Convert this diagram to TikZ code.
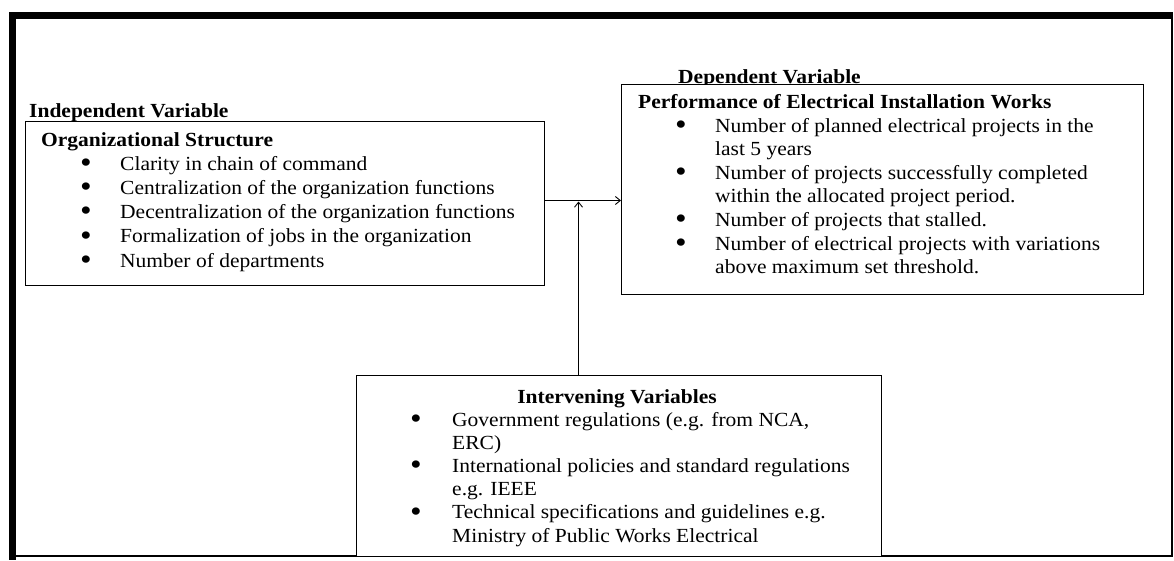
\documentclass[tikz,border=0pt]{standalone}
\usepackage{fontspec}
\setmainfont{Liberation Serif}[FakeStretch=1.075]
\usetikzlibrary{calc,arrows.meta}

\newcommand{\bigdot}{\raisebox{-1.2pt}{\fontsize{27}{0}\selectfont\textbf{\textbullet}}}
\newcommand{\bitem}[3]{\hspace*{#1}\makebox[#2][l]{\hspace*{-1.5pt}\bigdot}#3}
\newcommand{\bcont}[2]{\hspace*{#1}#2}

\tikzset{
	box/.style={draw, fill=white, line width=1.4pt, anchor=north west},
	lbl/.style={anchor=base west, font=\fontsize{20}{24.2}\selectfont\bfseries},
	txt/.style={anchor=base west},
	link/.style={-{Straight Barb[length=5pt,width=8pt]}, line width=0.9pt},
}

\begin{document}
\begin{tikzpicture}[x=1pt,y=-1pt, every node/.style={inner sep=0pt, font=\fontsize{20}{24.2}\selectfont}]
	\useasboundingbox (0,0) rectangle (1174,560);
	
	% frame
	\draw[line width=7pt] (9,15.5) -- (1173,15.5);
	\draw[line width=7pt] (12.5,12) -- (12.5,560);
	\draw[line width=2.4pt] (1172,19) -- (1172,557);
	\draw[line width=1.6pt] (16,556) -- (1173,556);
	
	% labels over the boxes
	\node[lbl] (indlbl) at (29,117.3) {Independent Variable};
	\node[lbl] (deplbl) at (678,83) {Dependent Variable};
	
	% boxes
	\node[box, minimum width=519pt, minimum height=164pt] (org) at (25,121) {};
	\node[box, minimum width=522pt, minimum height=210pt] (dep) at (621,84) {};
	\node[box, minimum width=525pt, minimum height=181pt] (int) at (356,375) {};
	
	\node[txt] (orgtxt) at (41,146) {\begin{tabular}[t]{@{}l@{}}
			\textbf{Organizational Structure}\\
			\bitem{41.2pt}{37.8pt}{Clarity in chain of command}\\
			\bitem{41.2pt}{37.8pt}{Centralization of the organization functions}\\
			\bitem{41.2pt}{37.8pt}{Decentralization of the organization functions}\\
			\bitem{41.2pt}{37.8pt}{Formalization of jobs in the organization}\\
			\bitem{41.2pt}{37.8pt}{Number of departments}
		\end{tabular}};
	
	\node[txt, font=\fontsize{20}{23.6}\selectfont] (deptxt) at (638,108.5) {\begin{tabular}[t]{@{}l@{}}
			\textbf{Performance of Electrical Installation Works}\\
			\bitem{39.2pt}{37.8pt}{Number of planned electrical projects in the}\\
			\bcont{77pt}{last 5 years}\\
			\bitem{39.2pt}{37.8pt}{Number of projects successfully completed}\\
			\bcont{77pt}{within the allocated project period.}\\
			\bitem{39.2pt}{37.8pt}{Number of projects that stalled.}\\
			\bitem{39.2pt}{37.8pt}{Number of electrical projects with variations}\\
			\bcont{77pt}{above maximum set threshold.}
		\end{tabular}};
	
	\node[lbl, anchor=base] (inttitle) at (617,403) {Intervening Variables};
	\node[txt, font=\fontsize{20}{23.2}\selectfont] (inttxt) at (412.2,426) {\begin{tabular}[t]{@{}l@{}}
			\bitem{0pt}{39.8pt}{Government regulations (e.g. from NCA,}\\
			\bcont{39.8pt}{ERC)}\\
			\bitem{0pt}{39.8pt}{International policies and standard regulations}\\
			\bcont{39.8pt}{e.g. IEEE}\\
			\bitem{0pt}{39.8pt}{Technical specifications and guidelines e.g.}\\
			\bcont{39.8pt}{Ministry of Public Works Electrical}
		\end{tabular}};
	
	% connectors
	\coordinate (joint) at (578.5,200.5);
	\draw[link] (org.east |- joint) -- (dep.west |- joint);
	\draw[link] (int.north -| joint) -- ([yshift=-1pt]joint);
\end{tikzpicture}
\end{document}
